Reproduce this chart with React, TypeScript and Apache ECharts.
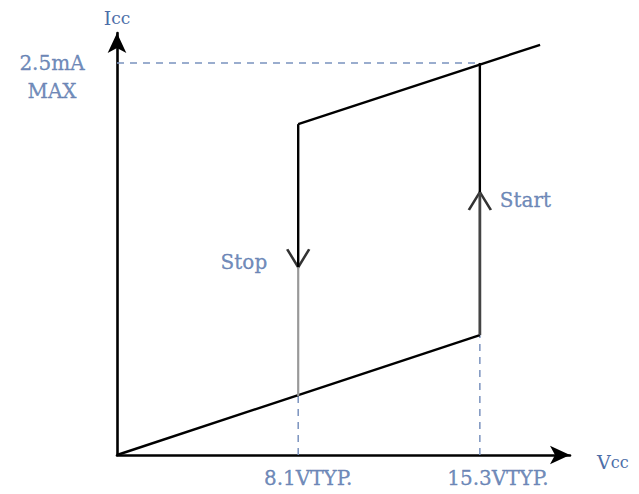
import React, { useEffect, useRef } from 'react';
import * as echarts from 'echarts';

// Schematic units (0–100 on both axes)
const xStop = 40.0; // 8.1 V TYP.
const xStart = 80.1; // 15.3 V TYP.
const xTickLabels = ['8.1VTYP.', '15.3VTYP.'];
const yMaxLevel = 92.9; // 2.5 mA MAX
const yMaxLabel = '2.5mA\nMAX';

const lowerLine = [[0, 0], [xStart, 28.4]];
const upperLine = [[xStop, 78.4], [93.4, 97.2]];
const stopUpper = [[xStop, 78.4], [xStop, 44.5]];
const stopLower = [[xStop, 44.5], [xStop, 14.0]];
const startLower = [[xStart, 28.4], [xStart, 62.3]];
const startUpper = [[xStart, 62.3], [xStart, yMaxLevel]];

const dashMax = [[0, yMaxLevel], [xStart, yMaxLevel]];
const dashStop = [[xStop, 0], [xStop, 14.0]];
const dashStart = [[xStart, 0], [xStart, 28.4]];

const arrowDown = [xStop, 44.5];
const arrowUp = [xStart, 62.3];

const TEXT = '#4d6ea8';
const DASH = '#7a92be';
const FONT = 'DejaVu Serif';

export default function App() {
  const ref = useRef<HTMLDivElement>(null);
  useEffect(() => {
    const chart = echarts.init(ref.current!, null, { renderer: 'svg' });
    const solid = (data: number[][], color = '#000', width = 2.4) => ({
      type: 'line',
      data,
      symbol: 'none',
      silent: true,
      clip: false,
      lineStyle: { color, width },
    });
    const dashed = (data: number[][]) => ({
      type: 'line',
      data,
      symbol: 'none',
      silent: true,
      lineStyle: { color: DASH, width: 1.5, type: [7, 6] },
    });
    const txt = { color: TEXT, fontFamily: FONT, fontSize: 20, textBorderColor: TEXT, textBorderWidth: 0.3 };
    chart.setOption({
      animation: false,
      grid: { left: 117, right: 69, top: 33, bottom: 39 },
      xAxis: {
        type: 'value',
        min: 0,
        max: 100,
        splitLine: { show: false },
        axisTick: { show: false },
        axisLabel: { show: false },
        axisLine: {
          show: true,
          symbol: ['none', 'arrow'],
          symbolSize: [14, 20],
          lineStyle: { color: '#000', width: 2.6 },
        },
        name: '{v|V}{c|cc}',
        nameLocation: 'end',
        nameGap: 27,
        nameTextStyle: {
          verticalAlign: 'middle',
          padding: [14, 0, 0, 0],
          rich: {
            v: { fontFamily: FONT, fontSize: 19, color: TEXT },
            c: { fontFamily: FONT, fontSize: 16, color: TEXT },
          },
        },
      },
      yAxis: {
        type: 'value',
        min: 0,
        max: 100,
        splitLine: { show: false },
        axisTick: { show: false },
        axisLabel: { show: false },
        axisLine: {
          show: true,
          symbol: ['none', 'arrow'],
          symbolSize: [14, 20],
          lineStyle: { color: '#000', width: 2.6 },
        },
        name: '{v|I}{c|cc}',
        nameLocation: 'end',
        nameGap: 6,
        nameTextStyle: {
          rich: {
            v: { fontFamily: FONT, fontSize: 19, color: TEXT },
            c: { fontFamily: FONT, fontSize: 17, color: TEXT },
          },
        },
      },
      series: [
        dashed(dashMax),
        dashed(dashStop),
        dashed(dashStart),
        solid(lowerLine),
        solid(upperLine),
        solid(stopUpper),
        solid(stopLower, '#999', 2.2),
        solid(startLower, '#444', 2.8),
        solid(startUpper),
        {
          type: 'scatter',
          silent: true,
          data: [
            { value: arrowDown, symbol: 'path://M0,0L12,20L24,0', symbolOffset: [0, -9] },
            { value: arrowUp, symbol: 'path://M0,20L12,0L24,20', symbolOffset: [0, 9] },
          ],
          symbolSize: [22, 18],
          itemStyle: { color: 'none', borderColor: '#000', borderWidth: 2.4 },
        },
        {
          type: 'scatter',
          silent: true,
          symbolSize: 0,
          clip: false,
          data: [
            { value: [xStop, 0], label: { show: true, formatter: xTickLabels[0], position: 'bottom', distance: 13, offset: [10, 0], ...txt } },
            { value: [xStart, 0], label: { show: true, formatter: xTickLabels[1], position: 'bottom', distance: 13, offset: [18, 0], ...txt } },
            { value: [0, yMaxLevel], label: { show: true, formatter: yMaxLabel, position: 'left', distance: 65, align: 'center', verticalAlign: 'middle', offset: [0, 14], lineHeight: 28, ...txt } },
            { value: arrowDown, label: { show: true, formatter: 'Stop', position: 'left', distance: 31, offset: [0, -5], ...txt } },
            { value: arrowUp, label: { show: true, formatter: 'Start', position: 'right', distance: 20, offset: [0, 8], ...txt } },
          ],
        },
      ],
    });
    return () => chart.dispose();
  }, []);
  return <div ref={ref} style={{ width: 639, height: 494, position: 'absolute', left: 0, top: 0 }} />;
}
